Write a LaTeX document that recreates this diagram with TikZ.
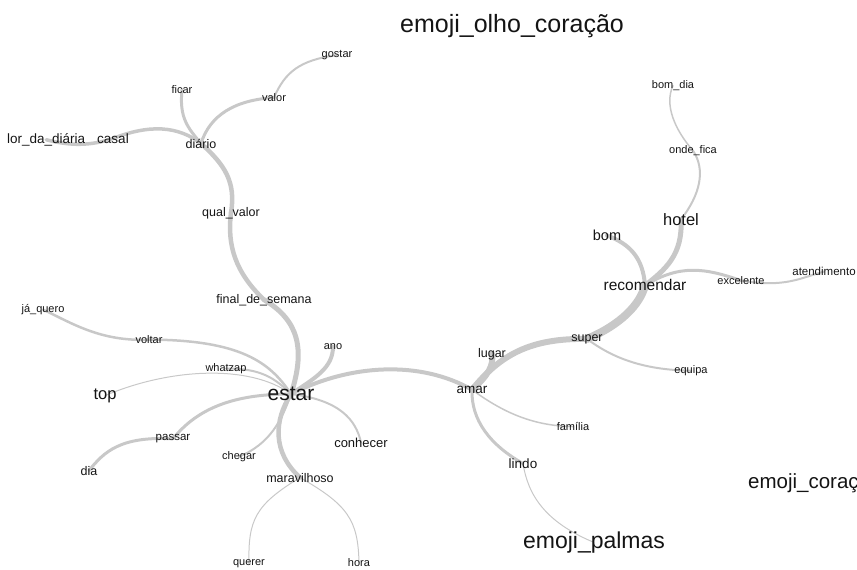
\documentclass[tikz,border=0pt]{standalone}
\usepackage{fontspec}
\setmainfont{Liberation Sans}
\usepackage{tikz}
\usepackage{xcolor}
\usetikzlibrary{backgrounds}

\definecolor{cinzaarco}{RGB}{200,200,200}
\definecolor{texto}{RGB}{20,20,20}

\begin{document}
\begin{tikzpicture}[x=1pt,y=-1pt,
  w/.style={text=texto, inner sep=0pt, anchor=base, yshift={-0.32*#1}, font=\fontsize{#1}{#1}\selectfont},
  w/.default=11,
  arco/.style={draw=cinzaarco, line width=#1, line cap=round},
  arco/.default=2]
\useasboundingbox (0,0) rectangle (857,570);
\node[w=25] (olhocoracao) at (512,24) {emoji\_olho\_coração};
\node[w] (gostar) at (337,54) {gostar};
\node[w] (ficar) at (182,90) {ficar};
\node[w] (valor) at (274,98) {valor};
\node[w=13.5, anchor=base west] (valordiaria) at (7,139) {lor\_da\_diária};
\node[w=13.5] (casal) at (113,139) {casal};
\node[w=12.5] (diario) at (201,144) {diário};
\node[w=12.5] (qualvalor) at (231,212) {qual\_valor};
\node[w=12.5] (finalsemana) at (264,299) {final\_de\_semana};
\node[w] (jaquero) at (43,309) {já\_quero};
\node[w] (voltar) at (149,340) {voltar};
\node[w] (ano) at (333,346) {ano};
\node[w] (whatzap) at (226,368) {whatzap};
\node[w=16.5] (top) at (105,394) {top};
\node[w=21] (estar) at (291,394) {estar};
\node[w=11.5] (passar) at (173,437) {passar};
\node[w=13] (conhecer) at (361,443) {conhecer};
\node[w] (chegar) at (239,456) {chegar};
\node[w=12.5] (dia) at (89,471) {dia};
\node[w=12.5] (maravilhoso) at (300,478) {maravilhoso};
\node[w] (querer) at (249,562) {querer};
\node[w] (hora) at (359,563) {hora};
\node[w=13.5] (amar) at (472,389) {amar};
\node[w=12.5] (lugar) at (492,353) {lugar};
\node[w=12.5] (super) at (587,337) {super};
\node[w] (equipa) at (691,370) {equipa};
\node[w] (familia) at (573,427) {família};
\node[w=13.5] (lindo) at (523,464) {lindo};
\node[w=23] (palmas) at (594,541) {emoji\_palmas};
\node[w=20.5, anchor=base west] (coracao) at (748,482) {emoji\_coraç};
\node[w=15.5] (recomendar) at (645,286) {recomendar};
\node[w=14.5] (bom) at (607,236) {bom};
\node[w=16.5] (hotel) at (681,220) {hotel};
\node[w] (excelente) at (741,281) {excelente};
\node[w=11.5] (atendimento) at (824,272) {atendimento};
\node[w] (ondefica) at (693,150) {onde\_fica};
\node[w] (bomdia) at (673,85) {bom\_dia};
\begin{scope}[on background layer]
\draw[arco=3.5] (valordiaria.center) .. controls (70,146) and (90,146) .. (casal.center);
\draw[arco=3.5] (casal.center) .. controls (150,124) and (178,126) .. (diario.center);
\draw[arco=3] (ficar.center) .. controls (179,118) and (188,128) .. (diario.center);
\draw[arco=3] (diario.center) .. controls (210,115) and (235,100) .. (valor.center);
\draw[arco=2] (valor.center) .. controls (285,72) and (300,60) .. (gostar.center);
\draw[arco=4.5] (diario.center) .. controls (225,165) and (236,182) .. (qualvalor.center);
\draw[arco=4.5] (qualvalor.center) .. controls (227,245) and (235,272) .. (finalsemana.center);
\draw[arco=5] (finalsemana.center) .. controls (298,320) and (306,348) .. (estar.center);
\draw[arco=4] (estar.center) .. controls (315,378) and (333,368) .. (ano.center);
\draw[arco=4] (estar.center) .. controls (350,364) and (420,360) .. (amar.center);
\draw[arco=2.5] (voltar.center) .. controls (240,340) and (270,362) .. (estar.center);
\draw[arco=2.5] (voltar.center) .. controls (100,342) and (70,322) .. (jaquero.center);
\draw[arco=2] (whatzap.center) .. controls (260,368) and (275,378) .. (estar.center);
\draw[arco=1] (top.center) .. controls (170,368) and (250,364) .. (estar.center);
\draw[arco=3] (estar.center) .. controls (240,394) and (200,405) .. (passar.center);
\draw[arco=3] (passar.center) .. controls (120,436) and (104,452) .. (dia.center);
\draw[arco=2] (estar.center) .. controls (340,400) and (356,420) .. (conhecer.center);
\draw[arco=2] (chegar.center) .. controls (270,444) and (282,420) .. (estar.center);
\draw[arco=4.5] (estar.center) .. controls (274,420) and (272,452) .. (maravilhoso.center);
\draw[arco=1] (maravilhoso.center) .. controls (255,505) and (248,520) .. (querer.center);
\draw[arco=1] (maravilhoso.center) .. controls (348,505) and (358,520) .. (hora.center);
\draw[arco=6] (amar.center) .. controls (488,376) and (494,365) .. (lugar.center);
\draw[arco=6] (amar.center) .. controls (500,355) and (530,338) .. (super.center);
\draw[arco=8] (super.center) .. controls (620,325) and (640,305) .. (recomendar.center);
\draw[arco=5] (recomendar.center) .. controls (665,270) and (683,255) .. (hotel.center);
\draw[arco=4] (recomendar.center) .. controls (643,258) and (630,244) .. (bom.center);
\draw[arco=3] (recomendar.center) .. controls (680,264) and (705,268) .. (excelente.center);
\draw[arco=2] (excelente.center) .. controls (785,288) and (800,278) .. (atendimento.center);
\draw[arco=2] (hotel.center) .. controls (700,195) and (706,170) .. (ondefica.center);
\draw[arco=1.5] (ondefica.center) .. controls (675,130) and (664,105) .. (bomdia.center);
\draw[arco=2] (super.center) .. controls (610,356) and (640,370) .. (equipa.center);
\draw[arco=1.5] (amar.center) .. controls (500,410) and (530,426) .. (familia.center);
\draw[arco=3] (amar.center) .. controls (471,420) and (490,445) .. (lindo.center);
\draw[arco=1] (lindo.center) .. controls (528,495) and (545,522) .. (palmas.center);
\end{scope}
\end{tikzpicture}
\end{document}
